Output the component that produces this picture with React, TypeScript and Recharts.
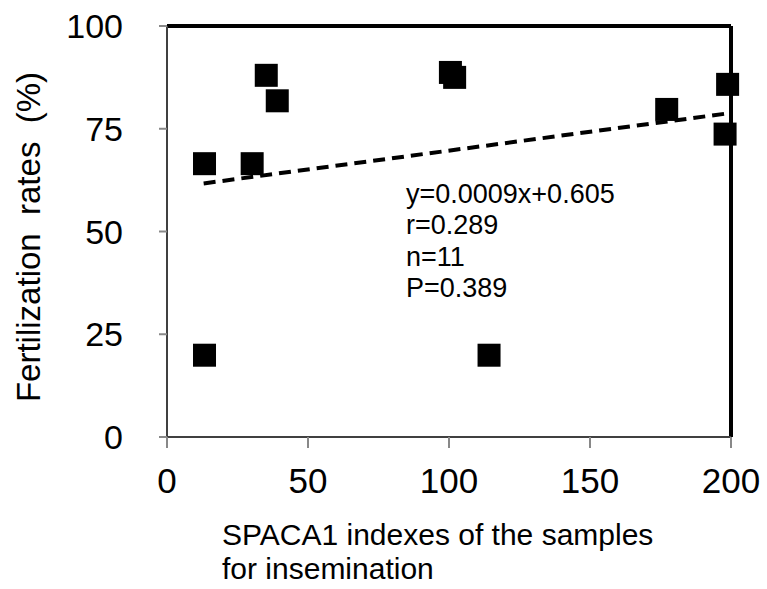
import React from "react";
import {
	ScatterChart,
	Scatter,
	XAxis,
	YAxis,
	ReferenceLine,
	Customized,
} from "recharts";

// SPACA1 index vs fertilization rate
const spacaIndex = [13.3, 13.3, 30.2, 35.2, 39.1, 100.5, 102, 114.2, 177.2, 198.8, 197.9];
const fertRate = [19.9, 66.5, 66.5, 88.0, 81.8, 88.7, 87.5, 19.9, 79.7, 85.8, 73.7];

// dashed regression line end points
const trendX = [13, 199.5];
const trendY = [61.7, 78.8];

const xTicks = [0, 50, 100, 150, 200];
const yTicks = [0, 25, 50, 75, 100];

const statsLines = ["y=0.0009x+0.605", "r=0.289", "n=11", "P=0.389"];

const points = spacaIndex.map((x, i) => ({ x, y: fertRate[i] }));
const trend = trendX.map((x, i) => ({ x, y: trendY[i] }));

const FONT = "'Liberation Sans', Arial, sans-serif";

const Square = (props: any) => {
	const { cx, cy } = props;
	const s = 23;
	return <rect x={cx - s / 2} y={cy - s / 2} width={s} height={s} fill="#000" />;
};

const Annotation = () => (
	<g fontFamily={FONT} fontSize={27} fill="#000">
		{statsLines.map((t, i) => (
			<text key={t} x={406} y={203 + i * 31.3}>
				{t}
			</text>
		))}
		<text
			x={40}
			y={237}
			transform="rotate(-90 40 237)"
			textAnchor="middle"
			fontSize={33}
			style={{ whiteSpace: "pre" }}>
			{"Fertilization  rates  (%)"}
		</text>
		<text x={222} y={545} fontSize={30}>
			SPACA1 indexes of the samples
		</text>
		<text x={222} y={579} fontSize={30}>
			for insemination
		</text>
	</g>
);

const App = () => {
	return (
		<div style={{ position: "absolute", left: 0, top: 0, background: "#fff" }}>
			<ScatterChart
				width={767}
				height={589}
				margin={{ top: 26, right: 36, bottom: 0, left: 0 }}>
				<XAxis
					type="number"
					dataKey="x"
					domain={[0, 200]}
					ticks={xTicks}
					height={152}
					tickSize={11}
					tickMargin={20}
					axisLine={{ stroke: "#404040", strokeWidth: 2 }}
					tickLine={{ stroke: "#888", strokeWidth: 2 }}
					tick={{ fill: "#000", fontSize: 35, fontFamily: FONT }}
				/>
				<YAxis
					type="number"
					dataKey="y"
					domain={[0, 100]}
					ticks={yTicks}
					width={167}
					tickSize={8}
					tickMargin={36}
					axisLine={{ stroke: "#404040", strokeWidth: 2 }}
					tickLine={{ stroke: "#888", strokeWidth: 2 }}
					tick={{ fill: "#000", fontSize: 34, fontFamily: FONT }}
				/>
				<ReferenceLine y={100} stroke="#000" strokeWidth={4} />
				<ReferenceLine x={200} stroke="#000" strokeWidth={4} />
				<Scatter
					data={trend}
					line={{ stroke: "#000", strokeWidth: 4, strokeDasharray: "12 7" }}
					shape={() => <g />}
					isAnimationActive={false}
				/>
				<Scatter data={points} shape={Square} isAnimationActive={false} />
				<Customized component={Annotation} />
			</ScatterChart>
		</div>
	);
};

export default App;
